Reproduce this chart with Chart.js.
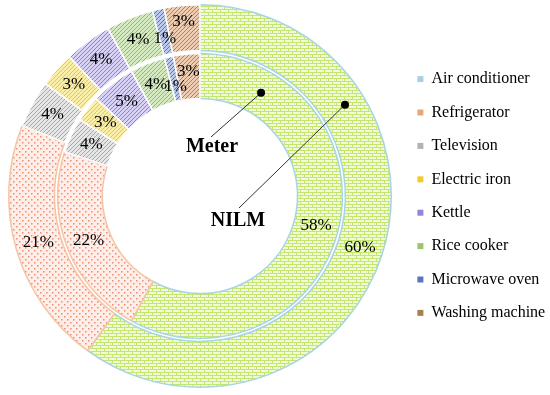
<!DOCTYPE html>
<html>
<head>
<meta charset="utf-8">
<script src="https://cdn.jsdelivr.net/npm/chart.js@4.4.0/dist/chart.umd.min.js"></script>
<style>
  html, body { margin: 0; padding: 0; background: #fff; }
  #wrap { width: 550px; height: 395px; position: relative; }
</style>
</head>
<body>
<div id="wrap"><canvas id="chart"></canvas></div>
<script>
// appliances (legend order = slice order, clockwise from top)
const appliances = ['Air conditioner', 'Refrigerator', 'Television', 'Electric iron',
                    'Kettle', 'Rice cooker', 'Microwave oven', 'Washing machine'];
// outer ring = NILM, inner ring = Meter (percent)
const nilmShares = [60, 21, 4, 3, 4, 4, 1, 3];
const meterShares = [58, 22, 4, 3, 5, 4, 1, 3];

const legendColors = ['#a9cfe2', '#eaa672', '#b3b3b3', '#f2ca2e', '#8d86dc', '#9cc46e', '#5b76bf', '#a8824e'];

// fill patterns: [kind, foreground, background]
const patternSpecs = [
    ['brick',  '#c2e76c', '#f3fad9'],
    ['dots',   '#e98c78', '#fdeee8'],
    ['stripe', '#a8a8a8', '#e6e6e6'],
    ['stripe', '#f0c828', '#fbefa8'],
    ['stripe', '#8a7fe0', '#d8d2f7'],
    ['stripe', '#8dbf5e', '#d6eac2'],
    ['stripe', '#5877c0', '#bccaec'],
    ['stripe', '#c47a40', '#eecdb2']
];
const sliceBorders = ['#a8d4e6', '#f6c4a4', '#fff', '#fff', '#fff', '#fff', '#fff', '#fff'];

// radial nudge of the crowded labels at the top (outer ring, inner ring)
const labelNudge = [
    [0, 0, 0, 0, 0, 0, -7, 7],
    [0, 0, 0, 0, 0, 0, -8, 5]
];

function makePattern(kind, fg, bg) {
    const c = document.createElement('canvas');
    const g = c.getContext('2d');
    if (kind === 'brick') {
        c.width = 8; c.height = 6;
        g.fillStyle = bg; g.fillRect(0, 0, 8, 6);
        g.fillStyle = fg;
        g.fillRect(0, 0, 8, 1);
        g.fillRect(0, 3, 8, 1);
        g.fillRect(0, 0, 1, 3);
        g.fillRect(4, 3, 1, 3);
    } else if (kind === 'dots') {
        c.width = 6; c.height = 6;
        g.fillStyle = bg; g.fillRect(0, 0, 6, 6);
        g.fillStyle = fg;
        g.fillRect(1, 1, 1.5, 1.5);
        g.fillRect(4, 4, 1.5, 1.5);
    } else {
        c.width = 4; c.height = 4;
        g.fillStyle = bg; g.fillRect(0, 0, 4, 4);
        g.strokeStyle = fg; g.lineWidth = 1;
        g.beginPath();
        g.moveTo(-1, 5); g.lineTo(5, -1);
        g.moveTo(-1, 1); g.lineTo(1, -1);
        g.moveTo(3, 5); g.lineTo(5, 3);
        g.stroke();
    }
    return g.createPattern(c, 'repeat');
}

const fills = patternSpecs.map(s => makePattern(s[0], s[1], s[2]));

// percentage labels + ring names
const sliceLabels = {
    id: 'sliceLabels',
    afterDatasetsDraw(chart) {
        const ctx = chart.ctx;
        ctx.save();
        ctx.fillStyle = '#000';
        ctx.textAlign = 'center';
        ctx.textBaseline = 'middle';
        ctx.font = '17px "Liberation Serif"';
        [0, 2].forEach((di, k) => {
            const meta = chart.getDatasetMeta(di);
            meta.data.forEach((arc, i) => {
                const mid = (arc.startAngle + arc.endAngle) / 2;
                const r = (arc.innerRadius + arc.outerRadius) / 2 + labelNudge[k][i];
                ctx.fillText(chart.data.datasets[di].data[i] + '%',
                    arc.x + r * Math.cos(mid), arc.y + r * Math.sin(mid));
            });
        });

        const outer = chart.getDatasetMeta(0).data[0];
        const inner = chart.getDatasetMeta(2).data[0];
        const cx = outer.x, cy = outer.y;
        const rIn = (inner.innerRadius + inner.outerRadius) / 2;
        const rOut = (outer.innerRadius + outer.outerRadius) / 2 + 3;
        const aIn = (-90 + 30.6) * Math.PI / 180;
        const aOut = (-90 + 57.8) * Math.PI / 180;
        const dIn = [cx + rIn * Math.cos(aIn), cy + rIn * Math.sin(aIn)];
        const dOut = [cx + rOut * Math.cos(aOut), cy + rOut * Math.sin(aOut)];

        ctx.strokeStyle = '#333';
        ctx.lineWidth = 1;
        ctx.beginPath();
        ctx.moveTo(cx + 11, cy - 59); ctx.lineTo(dIn[0], dIn[1]);
        ctx.moveTo(cx + 39, cy + 12); ctx.lineTo(dOut[0], dOut[1]);
        ctx.stroke();
        ctx.fillStyle = '#000';
        [dIn, dOut].forEach(d => {
            ctx.beginPath();
            ctx.arc(d[0], d[1], 4, 0, Math.PI * 2);
            ctx.fill();
        });

        ctx.font = 'bold 20px "Liberation Serif"';
        ctx.fillText('Meter', cx + 12, cy - 49);
        ctx.fillText('NILM', cx + 38, cy + 25);
        ctx.restore();
    }
};

new Chart(document.getElementById('chart'), {
    type: 'doughnut',
    data: {
        labels: appliances,
        datasets: [
            {
                label: 'NILM',
                data: nilmShares,
                backgroundColor: fills,
                borderColor: sliceBorders,
                borderWidth: 1.5,
                weight: 46
            },
            {
                label: 'gap',
                data: [100],
                backgroundColor: 'rgba(0,0,0,0)',
                borderWidth: 0,
                weight: 3
            },
            {
                label: 'Meter',
                data: meterShares,
                backgroundColor: fills,
                borderColor: sliceBorders,
                borderWidth: 1.5,
                weight: 45
            }
        ]
    },
    options: {
        responsive: true,
        maintainAspectRatio: false,
        animation: false,
        cutout: '51%',
        layout: { padding: { top: 4, bottom: 7, left: 0, right: 0 } },
        plugins: {
            tooltip: { enabled: false },
            legend: {
                position: 'right',
                maxWidth: 150,
                onClick: null,
                labels: {
                    boxWidth: 6,
                    boxHeight: 6,
                    padding: 17.4,
                    color: '#000',
                    font: { family: "'Liberation Serif'", size: 16 },
                    generateLabels: () => appliances.map((name, i) => ({
                        text: name,
                        fillStyle: legendColors[i],
                        strokeStyle: legendColors[i],
                        lineWidth: 0,
                        hidden: false,
                        index: i
                    }))
                }
            }
        }
    },
    plugins: [sliceLabels]
});
</script>
</body>
</html>
